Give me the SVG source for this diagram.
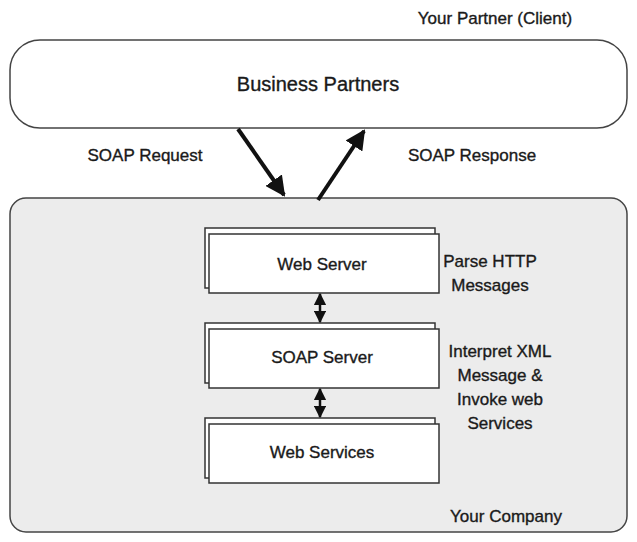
<svg xmlns="http://www.w3.org/2000/svg" width="637" height="542" viewBox="0 0 637 542">
<defs>
<marker id="ah" viewBox="0 0 10 10" refX="9" refY="5" markerWidth="5" markerHeight="5" orient="auto-start-reverse" markerUnits="strokeWidth">
<path d="M0,0 L10,5 L0,10 z" fill="#111"/>
</marker>
<marker id="ah2" viewBox="0 0 10 10" refX="9" refY="5" markerWidth="5" markerHeight="5" orient="auto-start-reverse" markerUnits="strokeWidth">
<path d="M0,0 L10,5 L0,10 z" fill="#111"/>
</marker>
</defs>
<style>
text{font-family:"Liberation Sans",Arial,sans-serif;fill:#1a1a1a;stroke:#1a1a1a;stroke-width:0.35;}
.lbl{font-size:17px;}
.box{fill:#fff;stroke:#333;stroke-width:1.5;}
.conn{stroke:#111;fill:none;}
</style>
<rect width="637" height="542" fill="#fff"/>
<text class="lbl" x="495" y="24" text-anchor="middle">Your Partner (Client)</text>
<g id="business-partners">
<rect x="10" y="40" width="617" height="88" rx="30" ry="30" fill="#fff" stroke="#444" stroke-width="1.5"/>
<text x="318" y="91" text-anchor="middle" font-size="20" stroke-width="0.5">Business Partners</text>
</g>
<g id="your-company">
<rect x="10" y="198" width="617" height="334" rx="16" ry="16" fill="#ececec" stroke="#444" stroke-width="1.5"/>
<text class="lbl" x="506" y="522" text-anchor="middle">Your Company</text>
</g>
<g id="web-server">
<rect class="box" x="205" y="228" width="230" height="60"/>
<rect class="box" x="209" y="234" width="230" height="59"/>
<text class="lbl" x="322" y="270" text-anchor="middle">Web Server</text>
</g>
<g id="soap-server">
<rect class="box" x="205" y="323" width="230" height="60"/>
<rect class="box" x="209" y="329" width="230" height="59"/>
<text class="lbl" x="322" y="363" text-anchor="middle">SOAP Server</text>
</g>
<g id="web-services">
<rect class="box" x="205" y="418" width="230" height="60"/>
<rect class="box" x="209" y="424" width="230" height="59"/>
<text class="lbl" x="322" y="458" text-anchor="middle">Web Services</text>
</g>
<g id="notes">
<text class="lbl" text-anchor="middle"><tspan x="490" y="267">Parse HTTP</tspan><tspan x="490" y="291">Messages</tspan></text>
<text class="lbl" text-anchor="middle"><tspan x="500" y="357">Interpret XML</tspan><tspan x="500" y="381">Message &amp;</tspan><tspan x="500" y="405">Invoke web</tspan><tspan x="500" y="429">Services</tspan></text>
</g>
<g id="connectors">
<line class="conn" x1="238" y1="129" x2="284" y2="195" stroke-width="4" marker-end="url(#ah)"/>
<line class="conn" x1="318" y1="200" x2="364" y2="131" stroke-width="4" marker-end="url(#ah)"/>
<line class="conn" x1="320" y1="294" x2="320" y2="322" stroke-width="2.5" marker-start="url(#ah2)" marker-end="url(#ah2)"/>
<line class="conn" x1="320" y1="389" x2="320" y2="417" stroke-width="2.5" marker-start="url(#ah2)" marker-end="url(#ah2)"/>
<text class="lbl" x="145" y="161" text-anchor="middle">SOAP Request</text>
<text class="lbl" x="472" y="161" text-anchor="middle">SOAP Response</text>
</g>
</svg>
